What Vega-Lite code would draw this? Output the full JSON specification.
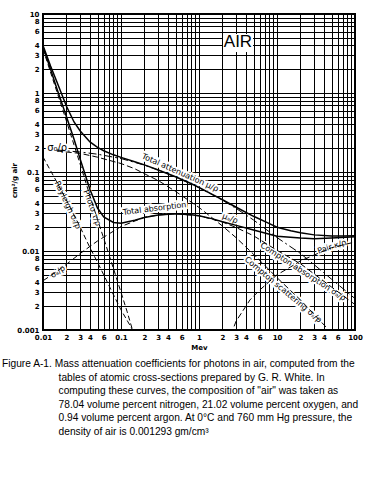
{
  "$schema": "https://vega.github.io/schema/vega-lite/v6.json",
  "width": 312,
  "height": 316,
  "autosize": {"type": "none"},
  "padding": {"left": 43, "top": 14, "right": 13, "bottom": 150},
  "background": "white",
  "config": {"view": {"stroke": "black", "strokeWidth": 2}, "font": "Liberation Sans"},
  "title": {
    "text": [
      "Figure A-1. Mass attenuation coefficients for photons in air, computed from the",
      "\u200b\u00a0\u00a0\u00a0\u00a0\u00a0\u00a0\u00a0\u00a0\u00a0\u00a0\u00a0\u00a0\u00a0\u00a0\u00a0\u00a0\u00a0\u00a0\u00a0\u00a0tables of atomic cross-sections prepared by G. R. White.  In",
      "\u200b\u00a0\u00a0\u00a0\u00a0\u00a0\u00a0\u00a0\u00a0\u00a0\u00a0\u00a0\u00a0\u00a0\u00a0\u00a0\u00a0\u00a0\u00a0\u00a0\u00a0computing these curves, the composition of \"air\" was taken as",
      "\u200b\u00a0\u00a0\u00a0\u00a0\u00a0\u00a0\u00a0\u00a0\u00a0\u00a0\u00a0\u00a0\u00a0\u00a0\u00a0\u00a0\u00a0\u00a0\u00a0\u00a078.04 volume percent nitrogen, 21.02 volume percent oxygen, and",
      "\u200b\u00a0\u00a0\u00a0\u00a0\u00a0\u00a0\u00a0\u00a0\u00a0\u00a0\u00a0\u00a0\u00a0\u00a0\u00a0\u00a0\u00a0\u00a0\u00a0\u00a00.94 volume percent argon.  At 0\u00b0C and 760 mm Hg pressure, the",
      "\u200b\u00a0\u00a0\u00a0\u00a0\u00a0\u00a0\u00a0\u00a0\u00a0\u00a0\u00a0\u00a0\u00a0\u00a0\u00a0\u00a0\u00a0\u00a0\u00a0\u00a0density of air is 0.001293 gm/cm\u00b3"
    ],
    "orient": "bottom",
    "anchor": "start",
    "frame": "group",
    "dx": -41,
    "offset": 9,
    "font": "Liberation Sans",
    "fontSize": 10.2,
    "fontWeight": "normal",
    "lineHeight": 13.5,
    "color": "black"
  },
  "datasets": {
    "curves": [
      {"series": "total", "E": 0.01, "v": 4.0},
      {"series": "total", "E": 0.0125, "v": 2.2},
      {"series": "total", "E": 0.015, "v": 1.4},
      {"series": "total", "E": 0.02, "v": 0.68},
      {"series": "total", "E": 0.025, "v": 0.43},
      {"series": "total", "E": 0.03, "v": 0.33},
      {"series": "total", "E": 0.04, "v": 0.24},
      {"series": "total", "E": 0.05, "v": 0.205},
      {"series": "total", "E": 0.06, "v": 0.186},
      {"series": "total", "E": 0.08, "v": 0.165},
      {"series": "total", "E": 0.1, "v": 0.153},
      {"series": "total", "E": 0.15, "v": 0.135},
      {"series": "total", "E": 0.2, "v": 0.123},
      {"series": "total", "E": 0.3, "v": 0.106},
      {"series": "total", "E": 0.5, "v": 0.087},
      {"series": "total", "E": 0.8, "v": 0.071},
      {"series": "total", "E": 1, "v": 0.0636},
      {"series": "total", "E": 1.5, "v": 0.0518},
      {"series": "total", "E": 2, "v": 0.0445},
      {"series": "total", "E": 3, "v": 0.0358},
      {"series": "total", "E": 5, "v": 0.0275},
      {"series": "total", "E": 8, "v": 0.0222},
      {"series": "total", "E": 10, "v": 0.02},
      {"series": "total", "E": 15, "v": 0.018},
      {"series": "total", "E": 20, "v": 0.017},
      {"series": "total", "E": 30, "v": 0.016},
      {"series": "total", "E": 50, "v": 0.0155},
      {"series": "total", "E": 70, "v": 0.0155},
      {"series": "total", "E": 100, "v": 0.0156},
      {"series": "absorption", "E": 0.01, "v": 3.8},
      {"series": "absorption", "E": 0.0125, "v": 2.0},
      {"series": "absorption", "E": 0.015, "v": 1.15},
      {"series": "absorption", "E": 0.02, "v": 0.5},
      {"series": "absorption", "E": 0.025, "v": 0.26},
      {"series": "absorption", "E": 0.03, "v": 0.145},
      {"series": "absorption", "E": 0.04, "v": 0.06},
      {"series": "absorption", "E": 0.05, "v": 0.035},
      {"series": "absorption", "E": 0.06, "v": 0.027},
      {"series": "absorption", "E": 0.08, "v": 0.023},
      {"series": "absorption", "E": 0.1, "v": 0.0225},
      {"series": "absorption", "E": 0.15, "v": 0.0245},
      {"series": "absorption", "E": 0.2, "v": 0.0265},
      {"series": "absorption", "E": 0.3, "v": 0.0285},
      {"series": "absorption", "E": 0.5, "v": 0.0296},
      {"series": "absorption", "E": 0.8, "v": 0.0288},
      {"series": "absorption", "E": 1, "v": 0.0279},
      {"series": "absorption", "E": 1.5, "v": 0.0255},
      {"series": "absorption", "E": 2, "v": 0.0235},
      {"series": "absorption", "E": 3, "v": 0.0211},
      {"series": "absorption", "E": 5, "v": 0.0184},
      {"series": "absorption", "E": 10, "v": 0.0154},
      {"series": "absorption", "E": 20, "v": 0.0146},
      {"series": "absorption", "E": 30, "v": 0.0143},
      {"series": "absorption", "E": 50, "v": 0.0146},
      {"series": "absorption", "E": 100, "v": 0.0151},
      {"series": "photo", "E": 0.01, "v": 3.6},
      {"series": "photo", "E": 0.015, "v": 1.05},
      {"series": "photo", "E": 0.02, "v": 0.44},
      {"series": "photo", "E": 0.03, "v": 0.125},
      {"series": "photo", "E": 0.04, "v": 0.05},
      {"series": "photo", "E": 0.05, "v": 0.025},
      {"series": "photo", "E": 0.06, "v": 0.0145},
      {"series": "photo", "E": 0.08, "v": 0.006},
      {"series": "photo", "E": 0.1, "v": 0.003},
      {"series": "photo", "E": 0.12, "v": 0.0017},
      {"series": "photo", "E": 0.15, "v": 0.0008},
      {"series": "rayleigh", "E": 0.01, "v": 0.155},
      {"series": "rayleigh", "E": 0.015, "v": 0.075},
      {"series": "rayleigh", "E": 0.02, "v": 0.044},
      {"series": "rayleigh", "E": 0.03, "v": 0.02},
      {"series": "rayleigh", "E": 0.04, "v": 0.011},
      {"series": "rayleigh", "E": 0.05, "v": 0.0072},
      {"series": "rayleigh", "E": 0.06, "v": 0.005},
      {"series": "rayleigh", "E": 0.08, "v": 0.0028},
      {"series": "rayleigh", "E": 0.1, "v": 0.0018},
      {"series": "rayleigh", "E": 0.15, "v": 0.0009},
      {"series": "rayleigh", "E": 0.2, "v": 0.0005},
      {"series": "compton", "E": 0.015, "v": 0.19},
      {"series": "compton", "E": 0.02, "v": 0.185},
      {"series": "compton", "E": 0.03, "v": 0.179},
      {"series": "compton", "E": 0.05, "v": 0.168},
      {"series": "compton", "E": 0.1, "v": 0.148},
      {"series": "compton", "E": 0.2, "v": 0.122},
      {"series": "compton", "E": 0.3, "v": 0.106},
      {"series": "compton", "E": 0.5, "v": 0.0864},
      {"series": "compton", "E": 1, "v": 0.0635},
      {"series": "compton", "E": 2, "v": 0.044},
      {"series": "compton", "E": 3, "v": 0.0345},
      {"series": "compton", "E": 5, "v": 0.0247},
      {"series": "compton", "E": 10, "v": 0.0148},
      {"series": "compton", "E": 20, "v": 0.0093},
      {"series": "compton", "E": 30, "v": 0.0067},
      {"series": "compton", "E": 50, "v": 0.0044},
      {"series": "compton", "E": 100, "v": 0.0025},
      {"series": "cscatter", "E": 0.015, "v": 0.185},
      {"series": "cscatter", "E": 0.02, "v": 0.179},
      {"series": "cscatter", "E": 0.03, "v": 0.172},
      {"series": "cscatter", "E": 0.05, "v": 0.154},
      {"series": "cscatter", "E": 0.1, "v": 0.128},
      {"series": "cscatter", "E": 0.15, "v": 0.11},
      {"series": "cscatter", "E": 0.2, "v": 0.095},
      {"series": "cscatter", "E": 0.3, "v": 0.078},
      {"series": "cscatter", "E": 0.5, "v": 0.0568},
      {"series": "cscatter", "E": 1, "v": 0.0356},
      {"series": "cscatter", "E": 2, "v": 0.0207},
      {"series": "cscatter", "E": 3, "v": 0.0147},
      {"series": "cscatter", "E": 5, "v": 0.0091},
      {"series": "cscatter", "E": 10, "v": 0.0046},
      {"series": "cscatter", "E": 20, "v": 0.0024},
      {"series": "cscatter", "E": 50, "v": 0.00092},
      {"series": "cabs", "E": 0.01, "v": 0.0042},
      {"series": "cabs", "E": 0.015, "v": 0.0055},
      {"series": "cabs", "E": 0.02, "v": 0.0068},
      {"series": "cabs", "E": 0.03, "v": 0.0093},
      {"series": "cabs", "E": 0.05, "v": 0.0134},
      {"series": "cabs", "E": 0.1, "v": 0.0204},
      {"series": "cabs", "E": 0.2, "v": 0.0268},
      {"series": "cabs", "E": 0.3, "v": 0.0285},
      {"series": "cabs", "E": 0.5, "v": 0.0296},
      {"series": "cabs", "E": 1, "v": 0.0279},
      {"series": "cabs", "E": 2, "v": 0.0233},
      {"series": "cabs", "E": 3, "v": 0.0198},
      {"series": "cabs", "E": 5, "v": 0.0156},
      {"series": "cabs", "E": 10, "v": 0.0102},
      {"series": "cabs", "E": 20, "v": 0.0069},
      {"series": "cabs", "E": 50, "v": 0.0035},
      {"series": "cabs", "E": 100, "v": 0.0021},
      {"series": "pair", "E": 2.2, "v": 0.0007},
      {"series": "pair", "E": 2.7, "v": 0.001},
      {"series": "pair", "E": 3, "v": 0.0013},
      {"series": "pair", "E": 4.5, "v": 0.0024},
      {"series": "pair", "E": 6, "v": 0.0032},
      {"series": "pair", "E": 10, "v": 0.005},
      {"series": "pair", "E": 15, "v": 0.0063},
      {"series": "pair", "E": 20, "v": 0.0075},
      {"series": "pair", "E": 35, "v": 0.0095},
      {"series": "pair", "E": 50, "v": 0.011},
      {"series": "pair", "E": 100, "v": 0.013}
    ],
    "labels": [
      {"text": "Total attenuation \u03bc/\u03c1", "E": 0.57, "v": 0.097, "angle": 24},
      {"text": "Total absorption", "E": 0.27, "v": 0.034, "angle": -7},
      {"text": "\u03bc\u2090/\u03c1", "E": 2.5, "v": 0.0255, "angle": 20},
      {"text": "Rayleigh \u03c3\u1d63/\u03c1", "E": 0.0205, "v": 0.038, "angle": 65},
      {"text": "Photo \u03c4/\u03c1", "E": 0.042, "v": 0.035, "angle": 70},
      {"text": "\u03c3\u2090/\u03c1", "E": 0.0156, "v": 0.0054, "angle": -35},
      {"text": "Compton absorption \u03c3\u2090/\u03c1", "E": 21.5, "v": 0.0054, "angle": 33},
      {"text": "Compton scattering \u03c3\u209b/\u03c1", "E": 11.9, "v": 0.0032, "angle": 40},
      {"text": "Pair \u03ba/\u03c1", "E": 50.7, "v": 0.0112, "angle": -18}
    ],
    "sigma0": [
      {"text": "\u03c3\u2080/\u03c1", "E": 0.0152, "v": 0.2}
    ],
    "box": [
      {"text": "AIR", "E": 3.16, "v": 4.43, "E_lo": 2.03, "E_hi": 4.92, "v_lo": 3.3, "v_hi": 5.58}
    ]
  },
  "encoding": {
    "x": {
      "field": "E",
      "type": "quantitative",
      "scale": {"type": "log", "domain": [0.01, 100], "nice": false},
      "axis": {
        "values": [0.01, 0.02, 0.03, 0.04, 0.05, 0.06, 0.07, 0.08, 0.09, 0.1, 0.2, 0.3, 0.4, 0.5, 0.6, 0.7, 0.8, 0.9, 1, 2, 3, 4, 5, 6, 7, 8, 9, 10, 20, 30, 40, 50, 60, 70, 80, 90, 100],
        "labelExpr": "indexof([0.01,0.1,1,10,100], datum.value) >= 0 ? toString(datum.value) : (indexof([0.02,0.03,0.04,0.06,0.2,0.3,0.4,0.6,2,3,4,6,20,30,40,60], datum.value) >= 0 ? replace(toString(datum.value), regexp('[0.]','g'), '') : '')",
        "grid": true,
        "gridColor": "black",
        "gridOpacity": 1,
        "gridWidth": 1,
        "ticks": false,
        "domain": false,
        "labelFont": "DejaVu Sans",
        "labelFontSize": 7,
        "labelFontWeight": "bold",
        "labelColor": "black",
        "labelPadding": 3,
        "labelFlush": false,
        "labelOverlap": false,
        "labelBound": false,
        "title": "Mev",
        "titleFont": "DejaVu Sans",
        "titleFontSize": 7,
        "titleFontWeight": "bold",
        "titleColor": "black",
        "titlePadding": 3
      }
    },
    "y": {
      "field": "v",
      "type": "quantitative",
      "scale": {"type": "log", "domain": [0.001, 10], "nice": false},
      "axis": {
        "values": [0.001, 0.002, 0.003, 0.004, 0.005, 0.006, 0.007, 0.008, 0.009, 0.01, 0.02, 0.03, 0.04, 0.05, 0.06, 0.07, 0.08, 0.09, 0.1, 0.2, 0.3, 0.4, 0.5, 0.6, 0.7, 0.8, 0.9, 1, 2, 3, 4, 5, 6, 7, 8, 9, 10],
        "labelExpr": "indexof([0.001,0.01,0.1,1,10], datum.value) >= 0 ? toString(datum.value) : (indexof([0.002,0.003,0.004,0.006,0.008,0.02,0.03,0.04,0.06,0.08,0.2,0.3,0.4,0.6,0.8,2,3,4,6,8], datum.value) >= 0 ? replace(toString(datum.value), regexp('[0.]','g'), '') : '')",
        "grid": true,
        "gridColor": "black",
        "gridOpacity": 1,
        "gridWidth": 1,
        "ticks": false,
        "domain": false,
        "labelFont": "DejaVu Sans",
        "labelFontSize": 7,
        "labelFontWeight": "bold",
        "labelColor": "black",
        "labelPadding": 4,
        "labelFlush": false,
        "labelOverlap": false,
        "labelBound": false,
        "title": "cm\u00b2/g air",
        "titleFont": "DejaVu Sans",
        "titleFontSize": 7,
        "titleFontWeight": "bold",
        "titleColor": "black",
        "titleX": -26,
        "titleY": 166
      }
    }
  },
  "layer": [
    {
      "data": {"name": "box"},
      "mark": {"type": "rect", "fill": "white"},
      "encoding": {
        "x": {"field": "E_lo", "type": "quantitative"},
        "x2": {"field": "E_hi"},
        "y": {"field": "v_lo", "type": "quantitative"},
        "y2": {"field": "v_hi"}
      }
    },
    {
      "data": {"name": "labels"},
      "mark": {"type": "text", "font": "DejaVu Sans", "fontSize": 8, "stroke": "white", "strokeWidth": 4, "fill": "white", "align": "center", "baseline": "middle"},
      "encoding": {"text": {"field": "text"}, "angle": {"field": "angle", "type": "quantitative", "scale": null}}
    },
    {
      "data": {"name": "sigma0"},
      "mark": {"type": "text", "font": "DejaVu Sans", "fontSize": 10, "stroke": "white", "strokeWidth": 4, "fill": "white", "align": "center", "baseline": "middle"},
      "encoding": {"text": {"field": "text"}}
    },
    {
      "data": {"name": "curves"},
      "transform": [{"filter": "datum.series === 'photo'"}],
      "mark": {"type": "line", "stroke": "black", "strokeWidth": 1, "strokeDash": [5, 3], "clip": true}
    },
    {
      "data": {"name": "curves"},
      "transform": [{"filter": "datum.series === 'rayleigh'"}],
      "mark": {"type": "line", "stroke": "black", "strokeWidth": 1, "strokeDash": [5, 3], "clip": true}
    },
    {
      "data": {"name": "curves"},
      "transform": [{"filter": "datum.series === 'compton'"}],
      "mark": {"type": "line", "stroke": "black", "strokeWidth": 1, "strokeDash": [8, 3, 2, 3], "clip": true}
    },
    {
      "data": {"name": "curves"},
      "transform": [{"filter": "datum.series === 'cscatter'"}],
      "mark": {"type": "line", "stroke": "black", "strokeWidth": 1, "strokeDash": [6, 3], "clip": true}
    },
    {
      "data": {"name": "curves"},
      "transform": [{"filter": "datum.series === 'cabs'"}],
      "mark": {"type": "line", "stroke": "black", "strokeWidth": 1, "strokeDash": [6, 3], "clip": true}
    },
    {
      "data": {"name": "curves"},
      "transform": [{"filter": "datum.series === 'pair'"}],
      "mark": {"type": "line", "stroke": "black", "strokeWidth": 1, "strokeDash": [6, 3], "clip": true}
    },
    {
      "data": {"name": "curves"},
      "transform": [{"filter": "datum.series === 'absorption'"}],
      "mark": {"type": "line", "stroke": "black", "strokeWidth": 1.5, "clip": true}
    },
    {
      "data": {"name": "curves"},
      "transform": [{"filter": "datum.series === 'total'"}],
      "mark": {"type": "line", "stroke": "black", "strokeWidth": 1.5, "clip": true}
    },
    {
      "data": {"name": "labels"},
      "mark": {"type": "text", "font": "DejaVu Sans", "fontSize": 8, "fill": "black", "align": "center", "baseline": "middle"},
      "encoding": {"text": {"field": "text"}, "angle": {"field": "angle", "type": "quantitative", "scale": null}}
    },
    {
      "data": {"name": "sigma0"},
      "mark": {"type": "text", "font": "DejaVu Sans", "fontSize": 10, "fill": "black", "align": "center", "baseline": "middle"},
      "encoding": {"text": {"field": "text"}}
    },
    {
      "data": {"name": "box"},
      "mark": {"type": "text", "font": "Liberation Sans", "fontSize": 17, "fill": "black", "align": "center", "baseline": "middle"},
      "encoding": {"text": {"field": "text"}}
    }
  ]
}
